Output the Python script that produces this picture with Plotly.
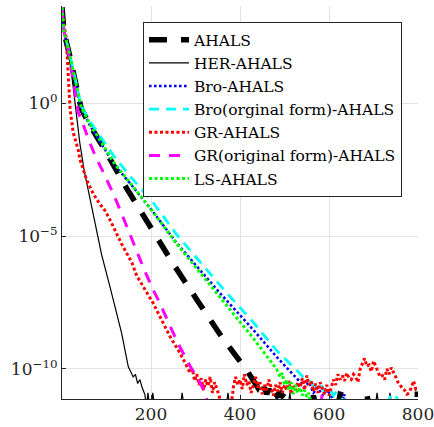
import plotly.graph_objects as go

# ---- data (x = iteration, values given as log10 of the residual) ----
ahals_x = [0, 4.5, 17, 28.5, 43, 63, 95, 145, 198, 250, 306, 362, 415, 430,
           435, 440, 445, 450, 455, 460, 465, 470, 475, 480, 485, 490, 495, 500, 505, 510, 560, 565, 570,
           620, 625, 635, 640, 670, 675, 685, 690, 780, 790, 800]
ahals_log = [3.6, 2.67, 1.8, 0.94, -0.2, -0.85, -1.72, -3.2, -4.65, -6.05, -7.47, -8.87, -10.04, -10.4,
             -10.5, -10.7, -10.55, -10.85, -10.7, -10.95, -10.75, -11.0, -10.8, -10.95, -11.05, -10.85, -11.0, -10.9, -11.05, -11.4, -11.4, -11.0, -11.4,
             -11.4, -10.95, -11.0, -11.4, -11.4, -10.9, -10.95, -11.4, -11.4, -10.95, -10.95]

her_x = [0, 6, 21, 28, 33, 40, 50, 59, 73, 89, 108, 134, 149, 160, 165, 170, 175, 180, 186,
         190, 193, 197, 201, 204, 208, 266, 270, 274, 369, 373, 377, 479, 483, 487,
         508, 512, 516, 704, 708, 712, 733, 737, 741, 800]
her_log = [3.6, 2.68, 1.18, 0.2, -0.6, -1.5, -2.55, -3.3, -4.45, -5.7, -6.92, -8.65, -9.92, -10.3, -10.2, -10.55, -10.4, -10.7, -10.95,
           -11.4, -10.9, -11.4, -11.4, -10.9, -11.4, -11.4, -10.9, -11.4, -11.4, -10.9, -11.4, -11.4, -10.9, -11.4,
           -11.4, -10.9, -11.4, -11.4, -10.9, -11.4, -11.4, -10.9, -11.4, -11.4]

bro_x = [0, 4.5, 17, 28.5, 43, 63, 95, 119, 153, 205, 258, 355, 430, 482, 530, 545, 555, 565, 575, 585, 595, 605, 612,
         628, 634, 640, 800]
bro_log = [3.6, 2.67, 1.8, 0.94, -0.2, -0.85, -1.72, -2.35, -3.02, -4.1, -5.27, -7.15, -8.53, -9.54, -10.4, -10.7, -10.5, -10.9, -10.7, -11.0, -10.8, -11.0, -11.4,
           -11.4, -10.95, -11.4, -11.4]

broorig_x = [0, 4.5, 17, 28.5, 43, 63, 95, 119, 153, 205, 258, 355, 430, 482, 530, 545, 560, 570, 580, 590, 600, 610, 615, 625, 640,
             730, 740, 750, 760, 800]
broorig_log = [3.6, 2.7, 1.85, 1.0, -0.1, -0.7, -1.5, -2.05, -2.75, -3.75, -4.95, -6.85, -8.25, -9.3, -10.1, -10.35, -10.5, -10.7, -10.55, -10.85, -10.7, -11.0, -10.9, -11.0, -11.4,
               -11.4, -10.95, -11.0, -11.4, -11.4]

gr_x = [0, 4, 9.7, 13.5, 18, 22, 25, 37, 40, 55.5, 70, 85, 97, 108, 134, 157, 168, 205, 243, 265, 288,
        293, 298, 303, 308, 313, 318, 323, 328, 333, 338, 343, 348, 353, 358, 380, 385, 390, 395,
        400, 405, 410, 415, 420, 425, 430, 435, 440, 445, 450, 455, 460, 465, 470, 475, 480, 485, 490, 495,
        500, 505, 510, 515, 520, 525, 530, 535, 540, 545, 550, 555, 560, 565, 570, 575, 580, 585, 590, 595,
        600, 605, 610, 615, 620, 625, 630, 635, 640, 645, 650, 655, 660, 665, 670, 675, 680, 685, 690, 695,
        700, 705, 710, 715, 720, 725, 730, 735, 740, 745, 750, 755, 760, 765, 770, 775, 780, 785, 790, 795, 800]
gr_log = [3.6, 3.0, 2.43, 1.18, -0.2, -0.7, -1.1, -1.8, -2.1, -2.9, -3.4, -3.8, -4.05, -4.4, -5.3, -6.0, -6.5, -7.53, -8.79, -9.4, -10.15,
          -10.0, -10.45, -10.2, -10.6, -10.35, -10.8, -10.4, -10.65, -10.3, -10.9, -10.5, -10.75, -11.0, -11.4, -11.4, -10.7, -10.3, -10.6,
          -10.4, -10.75, -10.2, -10.6, -10.45, -10.9, -10.55, -10.3, -10.7, -10.5, -10.95, -10.6, -10.8, -10.4, -10.7, -11.0, -10.6, -10.85, -10.5, -10.9,
          -10.6, -10.8, -10.45, -10.95, -10.65, -10.8, -10.5, -10.7, -10.35, -10.8, -10.25, -10.6, -10.45, -10.85, -10.55, -10.9, -10.5, -10.75, -10.95, -10.6,
          -11.0, -10.7, -10.4, -10.6, -10.2, -10.4, -10.25, -10.45, -10.15, -10.35, -10.4, -10.2, -10.3, -10.5, -10.0, -9.8, -9.6, -9.9, -9.85, -10.1,
          -9.7, -9.9, -10.1, -10.3, -10.25, -10.4, -10.0, -10.2, -9.95, -10.1, -10.3, -10.5, -10.6, -10.75, -10.8, -10.95, -10.9, -10.7, -10.45, -10.75, -10.7]

grorig_x = [0, 4.5, 13.5, 24.7, 36, 46.5, 58, 75, 95, 115, 135, 155, 170, 183, 205, 220, 243, 265, 288, 310, 321, 330,
            580, 585, 590, 595, 800]
grorig_log = [3.6, 2.7, 2.0, 0.94, -0.33, -0.75, -1.3, -2.0, -2.68, -3.4, -4.2, -5.05, -5.65, -6.2, -7.03, -7.53, -8.4, -9.17, -9.9, -10.5, -10.9, -11.4,
              -11.4, -10.95, -11.0, -11.4, -11.4]

ls_x = [0, 4.5, 17, 28.5, 43, 63, 95, 119, 153, 205, 258, 355, 430, 482, 490, 495, 500, 505, 510, 515, 520, 525,
        530, 535, 540, 545, 550, 555, 560, 800]
ls_log = [3.6, 2.7, 1.85, 0.98, -0.15, -0.8, -1.68, -2.3, -3.0, -4.1, -5.3, -7.3, -8.85, -10.0, -10.3, -10.15, -10.6, -10.4, -10.8, -10.5, -10.95, -10.6,
          -10.9, -10.7, -11.0, -10.8, -11.05, -10.9, -11.4, -11.4]

names = ["AHALS", "HER-AHALS", "Bro-AHALS", "Bro(orginal form)-AHALS",
         "GR-AHALS", "GR(original form)-AHALS", "LS-AHALS"]
x_tick_vals = [200, 400, 600, 800]
y_tick_vals = [1e0, 1e-5, 1e-10]
y_tick_text = ["10<sup>0</sup>", "10<sup>\u22125</sup>", "10<sup>\u221210</sup>"]

series = [
    (ahals_x, ahals_log, dict(color="black", width=5.5, dash="18px,14px")),
    (her_x, her_log, dict(color="black", width=1.2, dash="solid")),
    (bro_x, bro_log, dict(color="#0000ff", width=2.6, dash="2.6px,2.4px")),
    (broorig_x, broorig_log, dict(color="#00ffff", width=2.8, dash="10px,7px")),
    (gr_x, gr_log, dict(color="#ff0000", width=3, dash="3px,2.5px")),
    (grorig_x, grorig_log, dict(color="#ff00ff", width=3, dash="11px,9px")),
    (ls_x, ls_log, dict(color="#00ff00", width=3, dash="3px,2.5px")),
]

fig = go.Figure()
for (xs, logs, line), name in zip(series, names):
    fig.add_trace(go.Scatter(x=xs, y=[10 ** v for v in logs], mode="lines",
                             name=name, line=line))

font_family = "DejaVu Serif, serif"
fig.update_layout(
    width=434, height=427,
    margin=dict(l=62, r=16, t=6, b=28),
    paper_bgcolor="white", plot_bgcolor="white",
    font=dict(family=font_family, size=17, color="#262626"),
    showlegend=True,
    legend=dict(x=0.955, xanchor="right", y=0.959, yanchor="top",
                bgcolor="white", bordercolor="#262626", borderwidth=1,
                font=dict(family=font_family, size=15.5, color="black"),
                tracegroupgap=0, itemwidth=40),
)
fig.update_xaxes(range=[0, 800], tickvals=x_tick_vals, showgrid=True, gridcolor="#e3e3e3",
                 gridwidth=1, showline=True, linecolor="#262626", linewidth=1,
                 ticks="inside", ticklen=4, tickcolor="#262626", zeroline=False,
                 automargin=False, ticklabeloverflow="allow")
fig.update_yaxes(type="log", range=[-11.13, 3.65], tickvals=y_tick_vals, ticktext=y_tick_text,
                 showgrid=True, gridcolor="#e3e3e3", gridwidth=1, showline=True,
                 linecolor="#262626", linewidth=1, ticks="inside", ticklen=4,
                 tickcolor="#262626", zeroline=False, automargin=False)

fig.write_html("out.html", config={"displayModeBar": False},
               post_script="document.body.style.margin='0';")
